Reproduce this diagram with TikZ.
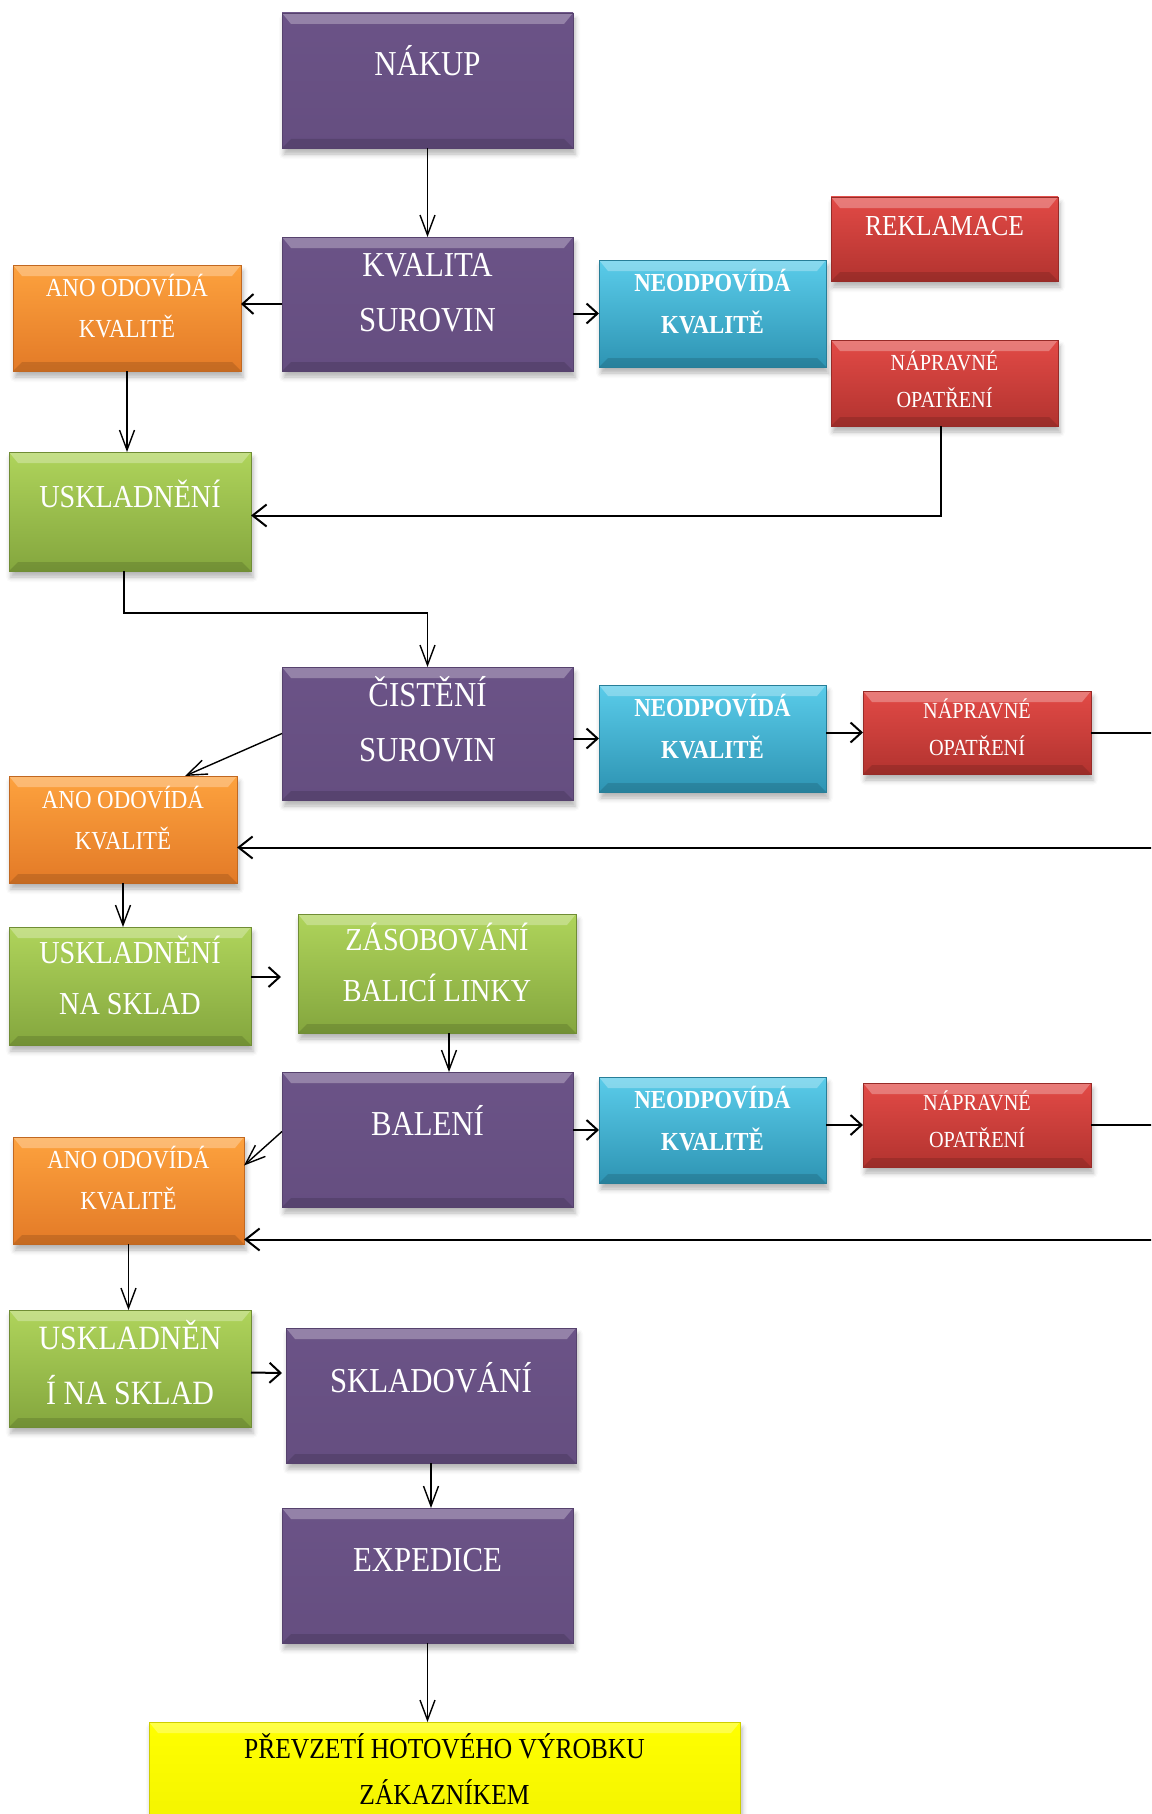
\documentclass[tikz,border=0pt]{standalone}
\usepackage{fontspec}
\setmainfont{Liberation Serif}
\newfontfamily\narrowserif[FakeStretch=0.88]{Liberation Serif}
\usetikzlibrary{arrows.meta,shadows.blur,calc}

% fills of the bevelled boxes
\definecolor{purpleA}{HTML}{6B5387}
\definecolor{purpleB}{HTML}{654E80}
\definecolor{orangeA}{HTML}{FDA23E}
\definecolor{orangeB}{HTML}{E37A27}
\definecolor{greenA}{HTML}{AFD45B}
\definecolor{greenB}{HTML}{84A63E}
\definecolor{blueA}{HTML}{5ACCEA}
\definecolor{blueB}{HTML}{2E94B3}
\definecolor{redA}{HTML}{E24A46}
\definecolor{redB}{HTML}{B2332F}
\definecolor{yellowA}{HTML}{FFFF00}
\definecolor{yellowB}{HTML}{F2F200}

\tikzset{
  bevel/.style 2 args={rectangle, inner sep=0pt, outer sep=0pt, anchor=north west,
    top color=#1, bottom color=#2, draw=#2!85!black, line width=0.8pt,
    blur shadow={shadow xshift=2pt, shadow yshift=-6pt, shadow blur radius=5pt, shadow opacity=30},
    path picture={
      \fill[white, opacity=0.28]
        (path picture bounding box.north west) -- (path picture bounding box.north east)
        -- ([xshift=-9pt,yshift=-11pt]path picture bounding box.north east)
        -- ([xshift=9pt,yshift=-11pt]path picture bounding box.north west) -- cycle;
      \fill[black, opacity=0.13]
        (path picture bounding box.south west) -- (path picture bounding box.south east)
        -- ([xshift=-9pt,yshift=9pt]path picture bounding box.south east)
        -- ([xshift=9pt,yshift=9pt]path picture bounding box.south west) -- cycle;
    }},
  purplebox/.style={bevel={purpleA}{purpleB}},
  orangebox/.style={bevel={orangeA}{orangeB}},
  greenbox/.style={bevel={greenA}{greenB}},
  bluebox/.style={bevel={blueA}{blueB}},
  redbox/.style={bevel={redA}{redB}},
  yellowbox/.style={bevel={yellowA}{yellowB}},
  lbl/.style={text=white, align=center, inner sep=0pt},
  bigtxt/.style={lbl, font=\narrowserif\fontsize{35pt}{55pt}\selectfont},
  greentxt/.style={lbl, font=\narrowserif\fontsize{32pt}{51pt}\selectfont},
  anotxt/.style={lbl, font=\narrowserif\fontsize{26pt}{41pt}\selectfont},
  redtxt/.style={lbl, font=\narrowserif\fontsize{23pt}{37pt}\selectfont},
  neotxt/.style={lbl, font=\narrowserif\bfseries\fontsize{26pt}{42pt}\selectfont},
  conn/.style={draw, line width=1.4pt, -{Straight Barb[length=20pt,width=15pt,line width=1.4pt]}},
  stub/.style={draw, line width=2pt, -{Straight Barb[length=11pt,width=20pt,line width=2pt]}},
  back/.style={draw, line width=2pt, -{Straight Barb[length=14pt,width=22pt,line width=2pt]}},
}

\begin{document}
\begin{tikzpicture}[x=1pt,y=-1pt]
\clip (0,0) rectangle (1151,1814);

% ---------- boxes ----------
\node[purplebox, minimum width=291pt, minimum height=135pt] (nakup)   at (282,13)   {};
\node[purplebox, minimum width=291pt, minimum height=134pt] (kvalita) at (282,237)  {};
\node[orangebox, minimum width=228pt, minimum height=106pt] (ano1)    at (13,265)   {};
\node[bluebox,   minimum width=227pt, minimum height=107pt] (neod1)   at (599,260)  {};
\node[redbox,    minimum width=227pt, minimum height=84pt]  (rekl)    at (831,197)  {};
\node[redbox,    minimum width=227pt, minimum height=86pt]  (naprav1) at (831,340)  {};
\node[greenbox,  minimum width=242pt, minimum height=119pt] (uskl1)   at (9,452)    {};

\node[purplebox, minimum width=291pt, minimum height=133pt] (cisteni) at (282,667)  {};
\node[bluebox,   minimum width=227pt, minimum height=107pt] (neod2)   at (599,685)  {};
\node[redbox,    minimum width=228pt, minimum height=83pt]  (naprav2) at (863,691)  {};
\node[orangebox, minimum width=228pt, minimum height=107pt] (ano2)    at (9,776)    {};
\node[greenbox,  minimum width=242pt, minimum height=118pt] (usklna)  at (9,927)    {};
\node[greenbox,  minimum width=278pt, minimum height=119pt] (zasob)   at (298,914)  {};

\node[purplebox, minimum width=291pt, minimum height=135pt] (baleni)  at (282,1072) {};
\node[bluebox,   minimum width=227pt, minimum height=106pt] (neod3)   at (599,1077) {};
\node[redbox,    minimum width=228pt, minimum height=84pt]  (naprav3) at (863,1083) {};
\node[orangebox, minimum width=231pt, minimum height=107pt] (ano3)    at (13,1137)  {};
\node[greenbox,  minimum width=242pt, minimum height=117pt] (uskl3)   at (9,1310)   {};
\node[purplebox, minimum width=290pt, minimum height=135pt] (sklad)   at (286,1328) {};
\node[purplebox, minimum width=291pt, minimum height=135pt] (exped)   at (282,1508) {};
\node[yellowbox, minimum width=591pt, minimum height=120pt] (prev)    at (149,1722) {};

% ---------- labels ----------
\node[bigtxt]   at (427.5,61)   {NÁKUP};
\node[bigtxt]   at (427.5,293)  {KVALITA\\SUROVIN};
\node[anotxt]   at (127,306)    {ANO ODOVÍDÁ\\KVALITĚ};
\node[neotxt]   at (712.5,302)  {NEODPOVÍDÁ\\KVALITĚ};
\node[lbl, font=\narrowserif\fontsize{29pt}{35pt}\selectfont] at (944.5,226) {REKLAMACE};
\node[redtxt]   at (944.5,379)  {NÁPRAVNÉ\\OPATŘENÍ};
\node[greentxt] at (130,494)    {USKLADNĚNÍ};

\node[bigtxt]   at (427.5,719)  {ČISTĚNÍ\\SUROVIN};
\node[neotxt]   at (712.5,727)  {NEODPOVÍDÁ\\KVALITĚ};
\node[redtxt]   at (977,727)    {NÁPRAVNÉ\\OPATŘENÍ};
\node[anotxt]   at (123,818)    {ANO ODOVÍDÁ\\KVALITĚ};
\node[greentxt] at (130,975.5)  {USKLADNĚNÍ\\NA SKLAD};
\node[greentxt] at (437,962.5)  {ZÁSOBOVÁNÍ\\BALICÍ LINKY};

\node[bigtxt]   at (427.5,1120.5) {BALENÍ};
\node[neotxt]   at (712.5,1119) {NEODPOVÍDÁ\\KVALITĚ};
\node[redtxt]   at (977,1119)   {NÁPRAVNÉ\\OPATŘENÍ};
\node[anotxt]   at (128.5,1178) {ANO ODOVÍDÁ\\KVALITĚ};
\node[lbl, font=\narrowserif\fontsize{34pt}{55pt}\selectfont] at (130,1362.5) {USKLADNĚN\\Í NA SKLAD};
\node[bigtxt]   at (431,1377.5) {SKLADOVÁNÍ};
\node[bigtxt]   at (427.5,1560) {EXPEDICE};
\node[lbl, text=black, font=\narrowserif\fontsize{29pt}{46pt}\selectfont] at (444.5,1769.5)
  {PŘEVZETÍ HOTOVÉHO VÝROBKU\\ZÁKAZNÍKEM};

% ---------- connectors ----------
\coordinate (bend1) at (427.5,613);
\coordinate (out2)  at (1190,790);
\coordinate (out3)  at (1190,1180);
\coordinate (tipA)  at (281,977);
\coordinate (tipB)  at (282,1373);

\draw[conn] (nakup.south) -- (kvalita.north);
\draw[stub] (kvalita.west) -- (kvalita.west -| ano1.east);
\draw[stub] (kvalita.east |- neod1.west) -- (neod1.west);
\draw[conn] (ano1.south) -- (ano1.south |- uskl1.north);
\draw[back] ([xshift=-4pt]naprav1.south) |- ([yshift=-4pt]uskl1.east);
\draw[conn] ([xshift=-6pt]uskl1.south) |- (bend1) -- (cisteni.north);

\draw[conn] (cisteni.west) -- ([xshift=62pt]ano2.north);
\draw[stub] (cisteni.east |- neod2.west) -- (neod2.west);
\draw[stub] (neod2.east |- naprav2.west) -- (naprav2.west);
\draw[back] (naprav2.east) -| (out2) |- ([yshift=-18pt]ano2.east);
\draw[conn] (ano2.south) -- (ano2.south |- usklna.north);
\draw[stub] ([yshift=9pt]usklna.east) -- (tipA);
\draw[conn] ([xshift=12pt]zasob.south) -- ([xshift=12pt]zasob.south |- baleni.north);

\draw[conn] ([yshift=8pt]baleni.west) -- ([yshift=25pt]ano3.east);
\draw[stub] (baleni.east |- neod3.west) -- (neod3.west);
\draw[stub] (neod3.east |- naprav3.west) -- (naprav3.west);
\draw[back] (naprav3.east) -| (out3) |- ([yshift=-49pt]ano3.east);
\draw[conn] (ano3.south) -- (ano3.south |- uskl3.north);
\draw[stub] ([yshift=-4pt]uskl3.east) -- (tipB);
\draw[conn] (sklad.south) -- (sklad.south |- exped.north);
\draw[conn] (exped.south) -- (exped.south |- prev.north);
\end{tikzpicture}
\end{document}
